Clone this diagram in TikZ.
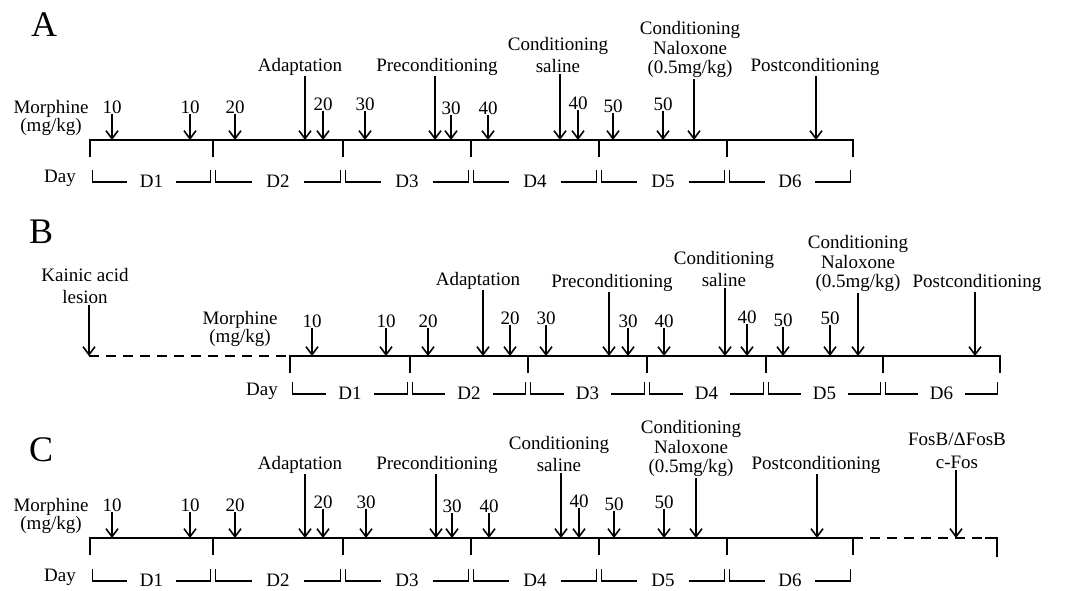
\documentclass[tikz,border=0pt]{standalone}
\usepackage{fontspec}
\setmainfont{Liberation Serif}
\usetikzlibrary{arrows.meta,calc}
\newcommand{\mkticks}[3]{%
  \foreach \x [count=\i from 0] in {#3} {\coordinate (#1-t\i) at (\x,#2);}%
}
\newcommand{\mkline}[1]{%
  \draw[tl] ($(#1-t0)+(0,17)$) -- (#1-t0) -- (#1-t6) -- ($(#1-t6)+(0,17)$);
  \foreach \i in {1,...,5} {\draw[tick] (#1-t\i) -- ($(#1-t\i)+(0,17)$);}%
}
\newcommand{\mkbrackets}[3]{%
  \foreach \i in {1,...,6}{%
    \pgfmathtruncatemacro{\j}{\i-1}%
    \draw[brk] ($(#1-t\j)+(2.5,#2)$) |- ($(#1-t\j)!0.3!(#1-t\i)+(0,#3)$);
    \draw[brk] ($(#1-t\j)!0.7!(#1-t\i)+(0,#3)$) -| ($(#1-t\i)+(-2.5,#2)$);
    \node[lbl,anchor=base] (#1-d\i) at ($(#1-t\j)!0.5!(#1-t\i)+(0,#3+5)$) {D\i};
  }%
}
\newcommand{\mkshort}[3]{%
  \foreach \x/\b/\t [count=\k] in {#3}{%
    \node[lbl,anchor=base] (#1-n\k) at (\x,\b) {\t};
    \coordinate (#1-m\k) at (\x,#2);
    \draw[arr] (#1-n\k) -- (#1-m\k);
  }%
}
\newcommand{\mklong}[5]{%
  \node[lbl,anchor=#2] (#1) at (#3) {#4};
  \coordinate (#1-e) at (#5);
  \draw[arr] (#1.south -| #1-e) -- (#1-e);
}
\begin{document}
\begin{tikzpicture}[x=1pt,y=-1pt,
  tl/.style={line width=2.6pt, line join=miter},
  tick/.style={line width=2.6pt},
  brk/.style={line width=1.6pt},
  arr/.style={line width=1.6pt, -{Straight Barb[length=8pt,width=12pt]}},
  dsh/.style={line width=2.6pt, dash pattern=on 10pt off 7pt},
  lbl/.style={font=\fontsize{19}{19.5}\selectfont, inner sep=1pt, align=center},
  panellab/.style={font=\fontsize{36}{36}\selectfont, inner sep=0pt, anchor=base west}]
\useasboundingbox[fill=white] (0,0) rectangle (1068,590);

% ---------------- Panel A ----------------
\node[panellab] (A-lab) at (31,36) {A};
\mkticks{A}{140}{90,213,343,471,599,727,853}
\mkline{A}
\mkbrackets{A}{30}{42}
\node[lbl,anchor=south] (A-morph) at (51,137) {Morphine\\[-1.5pt](mg/kg)};
\node[lbl,anchor=base east] (A-day) at (77,182) {Day};
\mkshort{A}{140}{112/113/10, 190/113/10, 235/113/20, 323/110/20, 365/110/30, 451/114/30, 488/114/40, 578/109/40, 613/112/50, 663/110/50}
\mklong{A-adapt}{base}{300,71}{Adaptation}{305,140}
\mklong{A-pre}{base}{437,71}{Preconditioning}{435,140}
\mklong{A-sal}{south}{558,74}{Conditioning\\[2.5pt]saline}{560,140}
\mklong{A-nal}{south}{690,79}{Conditioning\\Naloxone\\(0.5mg/kg)}{694,140}
\mklong{A-post}{base}{815,71}{Postconditioning}{816,140}

% ---------------- Panel B ----------------
\node[panellab] (B-lab) at (29,243) {B};
\mkticks{B}{356}{290,410,528,647,766,883,1000}
\mkline{B}
\mkbrackets{B}{26}{38}
\node[lbl,anchor=south] (B-morph) at (240,348) {Morphine\\[-1.5pt](mg/kg)};
\node[lbl,anchor=base east] (B-day) at (279,395) {Day};
\mkshort{B}{356}{312/327/10, 386/327/10, 428/327/20, 510/324/20, 546/324/30, 628/327/30, 664/327/40, 747/323/40, 783/326/50, 830/324/50}
\mklong{B-ka}{south}{85,305}{Kainic acid\\[3pt]lesion}{89,356}
\draw[dsh] (B-ka-e) -- (B-t0);
\mklong{B-adapt}{base}{478,285}{Adaptation}{483,356}
\mklong{B-pre}{base}{612,287}{Preconditioning}{609,356}
\mklong{B-sal}{south}{724,288}{Conditioning\\[2.5pt]saline}{725,356}
\mklong{B-nal}{south}{858,293}{Conditioning\\Naloxone\\(0.5mg/kg)}{858,356}
\mklong{B-post}{base}{977,287}{Postconditioning}{975,356}

% ---------------- Panel C ----------------
\node[panellab] (C-lab) at (29,461) {C};
\mkticks{C}{538}{90,213,343,471,599,727,853}
\mkline{C}
\mkbrackets{C}{31}{43}
\node[lbl,anchor=south] (C-morph) at (51,535) {Morphine\\[-1.5pt](mg/kg)};
\node[lbl,anchor=base east] (C-day) at (77,581) {Day};
\mkshort{C}{538}{112/511/10, 190/511/10, 235/511/20, 323/508/20, 366/508/30, 452/512/30, 489/512/40, 579/507/40, 614/510/50, 664/508/50}
\mklong{C-adapt}{base}{300,469}{Adaptation}{305,538}
\mklong{C-pre}{base}{437,469}{Preconditioning}{436,538}
\mklong{C-sal}{south}{559,473}{Conditioning\\[2.5pt]saline}{561,538}
\mklong{C-nal}{south}{691,478}{Conditioning\\Naloxone\\(0.5mg/kg)}{696,538}
\mklong{C-post}{base}{816,469}{Postconditioning}{817,538}
\coordinate (C-end) at (997,538);
\coordinate (C-endb) at (997,557);
\draw[dsh] (C-t6) -- ($(C-end)+(-12,0)$);
\draw[tl] ($(C-end)+(-12,0)$) -- (C-end) -- (C-endb);
\mklong{C-fos}{south}{957,470}{FosB/ΔFosB\\[3.5pt]c-Fos}{956,538}
\end{tikzpicture}
\end{document}
